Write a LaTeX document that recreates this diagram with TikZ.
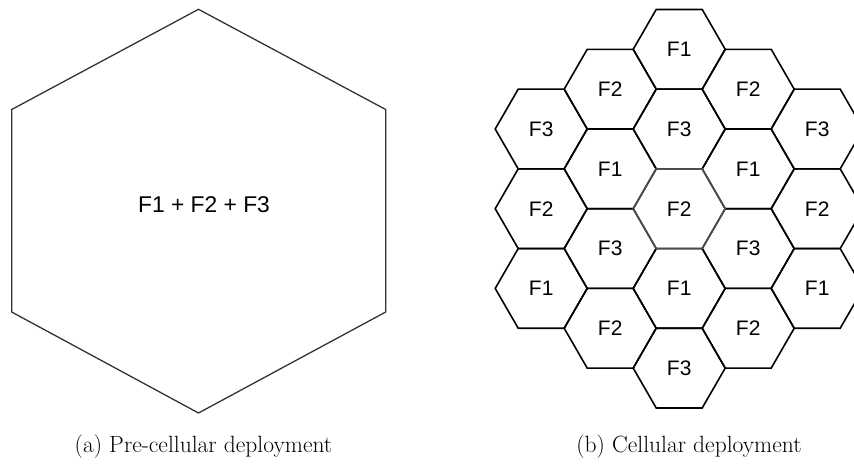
\documentclass[tikz,border=0pt]{standalone}
\usepackage{fontspec}
\newfontfamily\labelfont{Liberation Sans}
\tikzset{
  bighex/.style={draw=black!80, line width=1.3pt, line join=miter},
  cellhex/.style={draw=black, line width=1.6pt, line join=miter},
  centerhex/.style={draw=black!70, line width=1.6pt, line join=miter},
  celllabel/.style={font=\labelfont\fontsize{21}{24}\selectfont, inner sep=0pt},
  biglabel/.style={font=\labelfont\fontsize{22.8}{26}\selectfont, inner sep=0pt},
  captext/.style={font=\fontsize{23.5}{26}\selectfont, inner sep=0pt, anchor=base}
}
\begin{document}
\begin{tikzpicture}[x=1pt,y=-1pt]
\useasboundingbox (0,0) rectangle (854,467);
\clip (0,0) rectangle (854,467);
% left: pre-cellular
\draw[bighex] (198.5,9.3) -- (385.7,109.5) -- (385.7,312) -- (198.5,413) -- (11.7,312) -- (11.7,109.5) -- cycle;
\node[biglabel] (big) at (204,205) {F1 + F2 + F3};
% right: cellular grid
\def\R{46}
\foreach \c/\k/\lab/\nm in {
  0/0/F1/a, 0/1/F3/b, 0/3/F1/d, 0/4/F3/e,
  -1/0/F2/f, -1/1/F1/g, -1/2/F3/h, -1/3/F2/i,
  1/0/F2/j, 1/1/F1/k, 1/2/F3/l, 1/3/F2/m,
  -2/0/F3/n, -2/1/F2/o, -2/2/F1/p,
  2/0/F3/q, 2/1/F2/r, 2/2/F1/s}{
  \pgfmathsetmacro{\cx}{679.2+69*\c}
  \pgfmathsetmacro{\cy}{49.3+79.7*\k+39.85*abs(\c)}
  \draw[cellhex] (\cx+\R,\cy) -- (\cx+\R/2,\cy-39.84) -- (\cx-\R/2,\cy-39.84) -- (\cx-\R,\cy) -- (\cx-\R/2,\cy+39.84) -- (\cx+\R/2,\cy+39.84) -- cycle;
  \node[celllabel] (cell\nm) at (\cx,\cy) {\lab};
}
% centre cell
\draw[centerhex] (679.2+46,208.7) -- (679.2+23,168.86) -- (679.2-23,168.86) -- (679.2-46,208.7) -- (679.2-23,248.54) -- (679.2+23,248.54) -- cycle;
\node[celllabel] (cellc) at (679.2,208.7) {F2};
% captions
\node[captext] (capa) at (203.5,452) {(a)\ Pre-cellular deployment};
\node[captext] (capb) at (689,452) {(b)\ Cellular deployment};
\end{tikzpicture}
\end{document}
